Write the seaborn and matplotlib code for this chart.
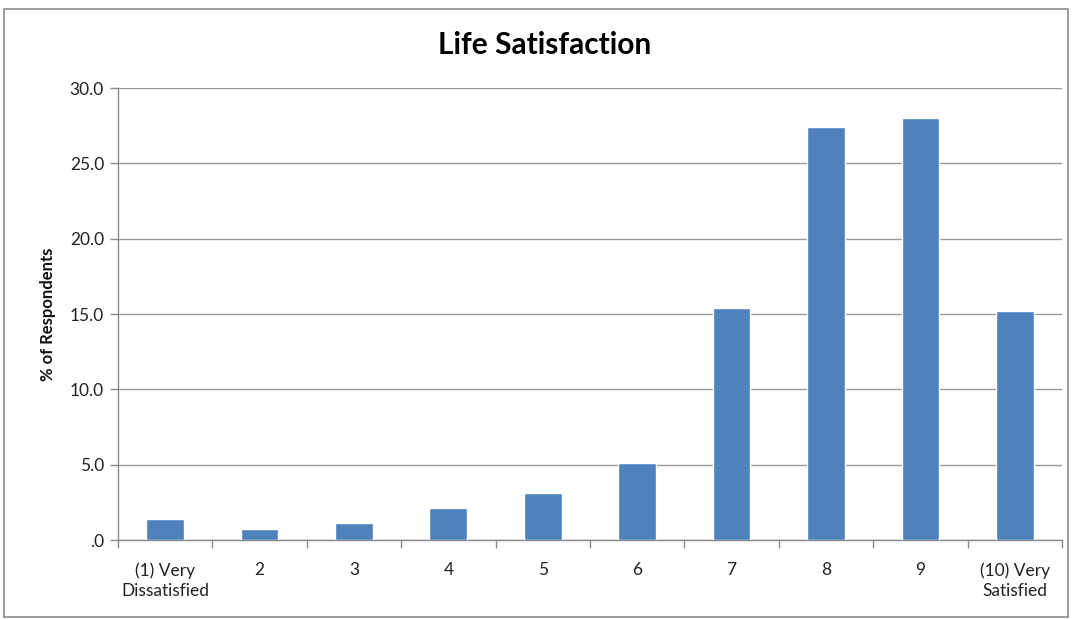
import matplotlib
matplotlib.use("Agg")
import matplotlib.pyplot as plt
import seaborn as sns
import pandas as pd
from matplotlib.patches import Rectangle

categories = ["(1) Very\nDissatisfied", "2", "3", "4", "5", "6", "7", "8", "9", "(10) Very\nSatisfied"]
values = [1.4, 0.7, 1.1, 2.1, 3.1, 5.1, 15.4, 27.4, 28.0, 15.2]
yticks = [0, 5, 10, 15, 20, 25, 30]
ytick_labels = [".0", "5.0", "10.0", "15.0", "20.0", "25.0", "30.0"]

sns.set_theme(style="white")
plt.rcParams['font.family'] = ['Lato', 'DejaVu Sans']

df = pd.DataFrame({"cat": categories, "val": values})

fig = plt.figure(figsize=(10.72, 6.19), dpi=100)
ax = fig.add_axes([0.110, 0.1276, 0.8807, 0.7302])

sns.barplot(data=df, x="cat", y="val", color="#4F81BD", width=0.4,
            saturation=1, ax=ax, zorder=3)

ax.set_xlim(-0.5, len(categories) - 0.5)
ax.set_ylim(0, 30)
ax.set_yticks(yticks)
ax.set_yticklabels(ytick_labels, fontsize=12.5, color="#222222")
ax.yaxis.grid(True, color="#9a9a9a", linewidth=1.0, zorder=0)
ax.set_axisbelow(True)

ax.tick_params(axis="y", which="major", direction="out", length=6, width=1,
               color="#8a8a8a", left=True, pad=4)
ax.tick_params(axis="x", which="major", length=0, pad=16, labelsize=12.5,
               labelcolor="#222222")
for lbl in ax.get_xticklabels():
    lbl.set_linespacing(1.3)
ax.set_xticks([i - 0.5 for i in range(len(categories) + 1)], minor=True)
ax.tick_params(axis="x", which="minor", direction="out", length=6, width=1,
               color="#8a8a8a", bottom=True)

for s in ["top", "right"]:
    ax.spines[s].set_visible(False)
for s in ["left", "bottom"]:
    ax.spines[s].set_color("#8a8a8a")
    ax.spines[s].set_linewidth(1)

ax.set_xlabel("")
ax.set_ylabel("% of Respondents", fontsize=12, fontweight="bold", labelpad=10,
              color="#111111")
fig.text(0.508, 0.927, "Life Satisfaction", ha="center", va="center",
         fontsize=21.5, fontweight="bold", color="#000000")

fig.patches.append(Rectangle((0.004, 0.004), 0.992, 0.981, transform=fig.transFigure,
                             fill=False, edgecolor="#8c8c8c", linewidth=1.2))

fig.savefig("out.png", dpi=100, facecolor="white")
